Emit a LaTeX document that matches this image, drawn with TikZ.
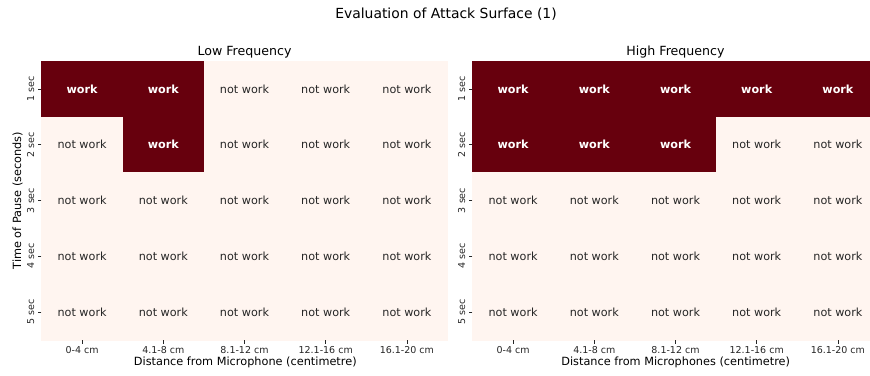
\documentclass[tikz,border=0pt]{standalone}
\usepackage{fontspec}
\setmainfont{DejaVu Sans}
\usepackage{tikz}
\usetikzlibrary{positioning}
\definecolor{hot}{HTML}{67000D}
\definecolor{cold}{HTML}{FFF5F0}
\definecolor{ink}{HTML}{262626}
\tikzset{
  cell/.style={minimum width=81.2pt, minimum height=55.8pt, inner sep=0pt, line width=0.3pt},
  cellw/.style={cell, fill=hot, draw=hot, text=white, font=\fontsize{11.2}{13}\selectfont\bfseries, node contents={work}},
  celln/.style={cell, fill=cold, draw=cold, text=ink, font=\fontsize{11.2}{13}\selectfont, node contents={not work}},
  tickline/.style={ink, line width=0.8pt},
  ticklabel/.style={font=\fontsize{9.5}{11}\selectfont, text=ink, inner sep=0pt},
  axislabel/.style={font=\fontsize{11.3}{13}\selectfont, inner sep=0pt, anchor=base},
  paneltitle/.style={font=\fontsize{12.6}{15}\selectfont, inner sep=0pt, anchor=base},
}

\begin{document}
\begin{tikzpicture}[x=1pt,y=-1pt]
  \useasboundingbox (0,0) rectangle (870,375);
  \fill[white] (0,0) rectangle (870,375);
  \clip (0,0) rectangle (870,375);

  \node[font=\fontsize{13.9}{16}\selectfont, inner sep=0pt, anchor=base] (title) at (446,18.5) {Evaluation of Attack Surface (1)};

  % low frequency
  \foreach \r/\row in {1/{w,w,n,n,n},2/{n,w,n,n,n},3/{n,n,n,n,n},4/{n,n,n,n,n},5/{n,n,n,n,n}}
    \foreach \s [count=\c] in \row
      \node[name=low-\r-\c, at={({41.5+81.2*(\c-0.5)},{61+55.8*(\r-0.5)})}, cell\s];
  \foreach \r in {1,...,5} {
    \draw[tickline] (low-\r-1.west) -- ++(-3.5,0);
    \node[ticklabel, rotate=90, anchor=south] (lowy-\r) at ([xshift=-7pt]low-\r-1.west) {\r{} sec};
  }
  \foreach \c/\t in {1/0-4 cm,2/4.1-8 cm,3/8.1-12 cm,4/12.1-16 cm,5/16.1-20 cm} {
    \draw[tickline] (low-5-\c.south) -- ++(0,3.5);
    \node[ticklabel, anchor=north] (lowx-\c) at ([yshift=-6.5pt]low-5-\c.south) {\t};
  }
  \node[paneltitle] (lowtitle) at (244.5,55.3) {Low Frequency};
  \node[axislabel] (lowxlabel) at (245.3,365.3) {Distance from Microphone (centimetre)};
  \node[axislabel, rotate=90, anchor=center] (ylabel) at (17.5,200.5) {Time of Pause (seconds)};

  % high frequency
  \foreach \r/\row in {1/{w,w,w,w,w},2/{w,w,w,n,n},3/{n,n,n,n,n},4/{n,n,n,n,n},5/{n,n,n,n,n}}
    \foreach \s [count=\c] in \row
      \node[name=high-\r-\c, at={({472.5+81.2*(\c-0.5)},{61+55.8*(\r-0.5)})}, cell\s];
  \foreach \r in {1,...,5} {
    \draw[tickline] (high-\r-1.west) -- ++(-3.5,0);
    \node[ticklabel, rotate=90, anchor=south] (highy-\r) at ([xshift=-7pt]high-\r-1.west) {\r{} sec};
  }
  \foreach \c/\t in {1/0-4 cm,2/4.1-8 cm,3/8.1-12 cm,4/12.1-16 cm,5/16.1-20 cm} {
    \draw[tickline] (high-5-\c.south) -- ++(0,3.5);
    \node[ticklabel, anchor=north] (highx-\c) at ([yshift=-6.5pt]high-5-\c.south) {\t};
  }
  \node[paneltitle] (hightitle) at (675.5,55.3) {High Frequency};
  \node[axislabel] (highxlabel) at (675.7,365.3) {Distance from Microphones (centimetre)};
\end{tikzpicture}
\end{document}
